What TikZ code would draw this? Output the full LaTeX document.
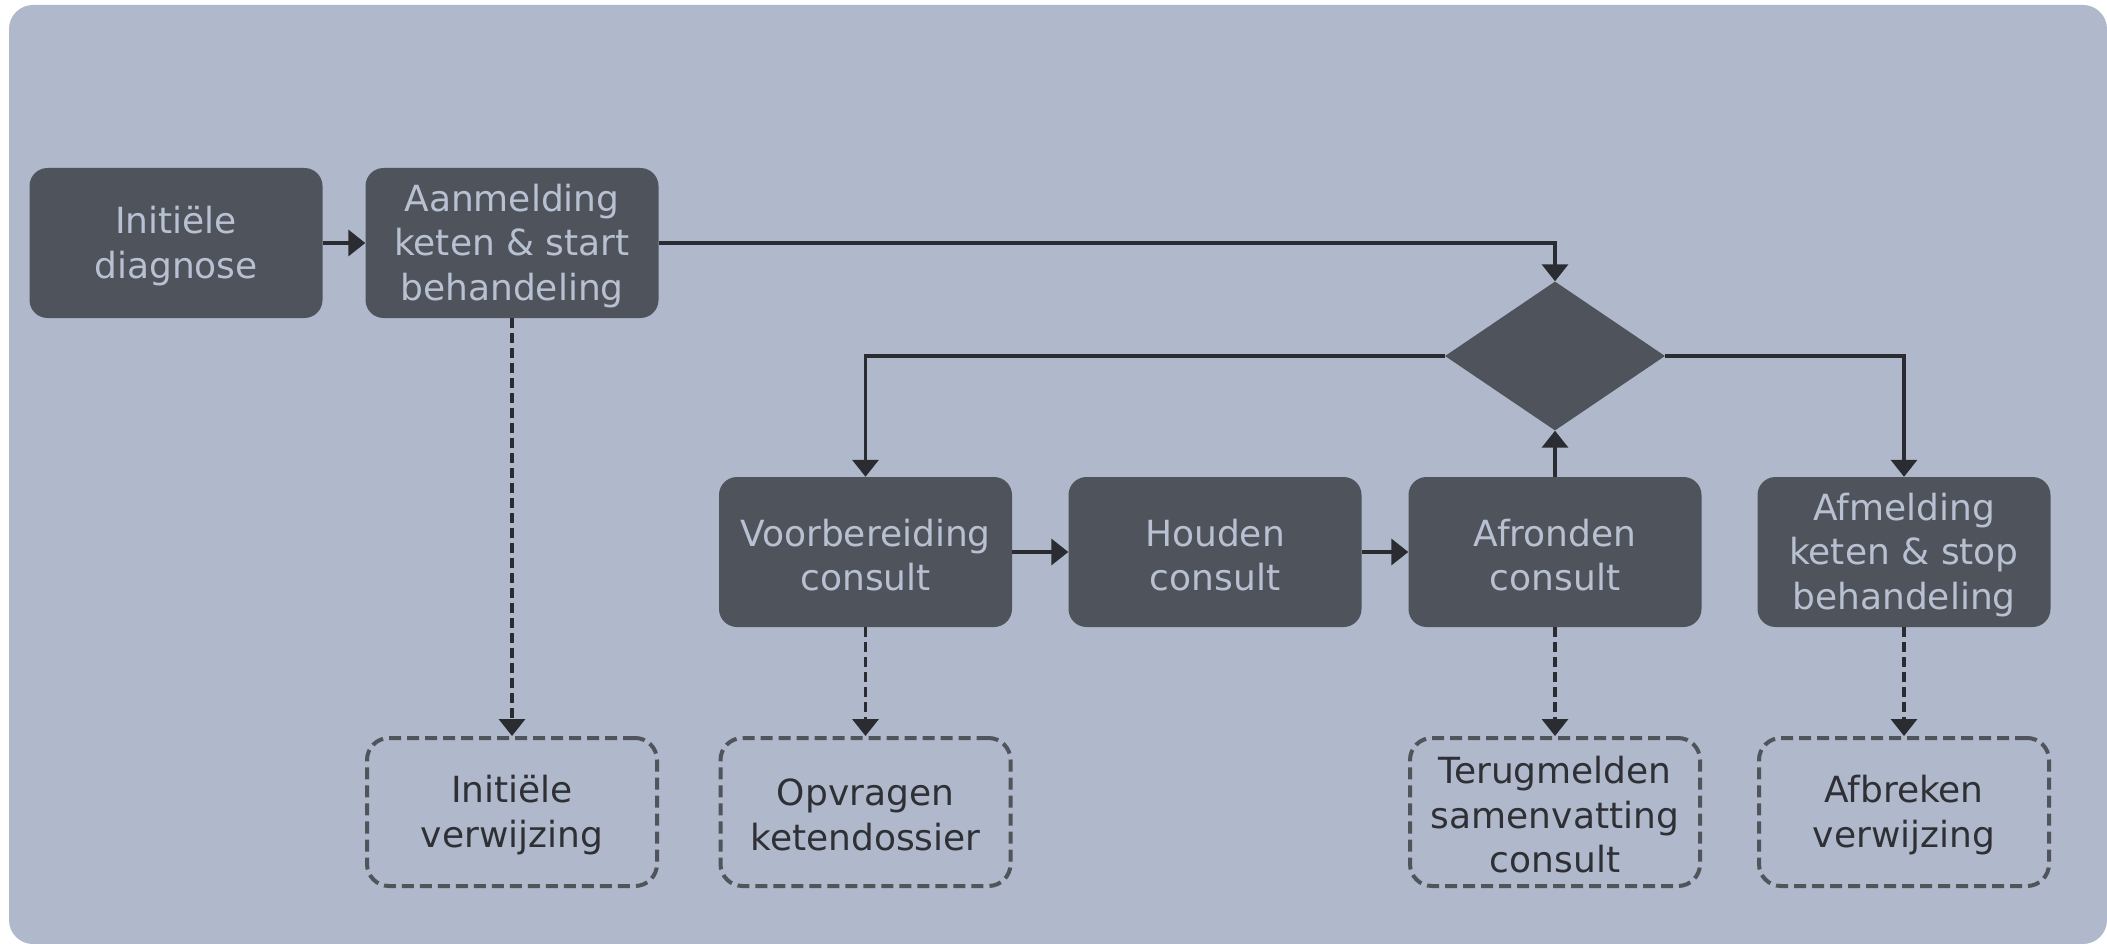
\documentclass[tikz,border=0pt]{standalone}
\usepackage{fontspec}
\setmainfont{DejaVu Sans}
\usetikzlibrary{shapes.geometric,arrows.meta}
\definecolor{bgblue}{HTML}{B0B9CB}
\definecolor{nodegray}{HTML}{4F535B}
\definecolor{nodetext}{HTML}{B8C1D2}
\definecolor{linedark}{HTML}{2A2C31}
\definecolor{dashgray}{HTML}{50545B}
\definecolor{reftext}{HTML}{2E3035}
\begin{document}
\begin{tikzpicture}[x=1pt,y=-1pt,
  txt/.style={align=center,inner sep=0pt,yshift=-3pt,font=\fontsize{36}{44.5}\selectfont},
  ptext/.style={txt,text=nodetext},
  rtext/.style={txt,text=reftext},
  proc/.style={rectangle,rounded corners=18pt,fill=nodegray,
    minimum width=293pt,minimum height=150pt,inner sep=0pt,
    label={[ptext]center:#1}},
  refbox/.style={rectangle,rounded corners=22pt,draw=dashgray,line width=4pt,
    dash pattern=on 12pt off 6pt,
    minimum width=290pt,minimum height=148pt,inner sep=0pt,
    label={[rtext]center:#1}},
  decision/.style={diamond,fill=nodegray,minimum width=220pt,minimum height=149pt,inner sep=0pt},
  arr/.style={draw=linedark,line width=3.5pt,-{Triangle[width=26pt,length=17pt]}},
  darr/.style={arr,dash pattern=on 10pt off 5pt}]
\useasboundingbox (0,0) rectangle (2107,944);
\fill[white] (0,0) rectangle (2107,944);
\fill[bgblue,rounded corners=24pt] (9,5) rectangle (2107,944);

\node[proc={Initiële\\diagnose}] (init) at (176,243) {};
\node[proc={Aanmelding\\keten \& start\\behandeling}] (aanm) at (512,243) {};
\node[decision] (dia) at (1555,356) {};
\node[proc={Voorbereiding\\consult}] (voor) at (865.5,552) {};
\node[proc={Houden\\consult}] (houd) at (1215,552) {};
\node[proc={Afronden\\consult}] (afro) at (1555,552) {};
\node[proc={Afmelding\\keten \& stop\\behandeling}] (afme) at (1904,552) {};

\node[refbox={Initiële\\verwijzing}] (ref1) at (512,812) {};
\node[refbox={Opvragen\\ketendossier}] (ref2) at (865.5,812) {};
\node[refbox={Terugmelden\\samenvatting\\consult}] (ref3) at (1555,812) {};
\node[refbox={Afbreken\\verwijzing}] (ref4) at (1904,812) {};

\draw[arr] (init.east) -- (aanm.west);
\draw[arr] (aanm.east) -| (dia.north);
\draw[arr] (dia.west) -| (voor.north);
\draw[arr] (dia.east) -| (afme.north);
\draw[arr] (voor.east) -- (houd.west);
\draw[arr] (houd.east) -- (afro.west);
\draw[arr] (afro.north) -- (dia.south);

\draw[darr] (aanm.south) -- (ref1.north);
\draw[darr] (voor.south) -- (ref2.north);
\draw[darr] (afro.south) -- (ref3.north);
\draw[darr] (afme.south) -- (ref4.north);
\end{tikzpicture}
\end{document}
